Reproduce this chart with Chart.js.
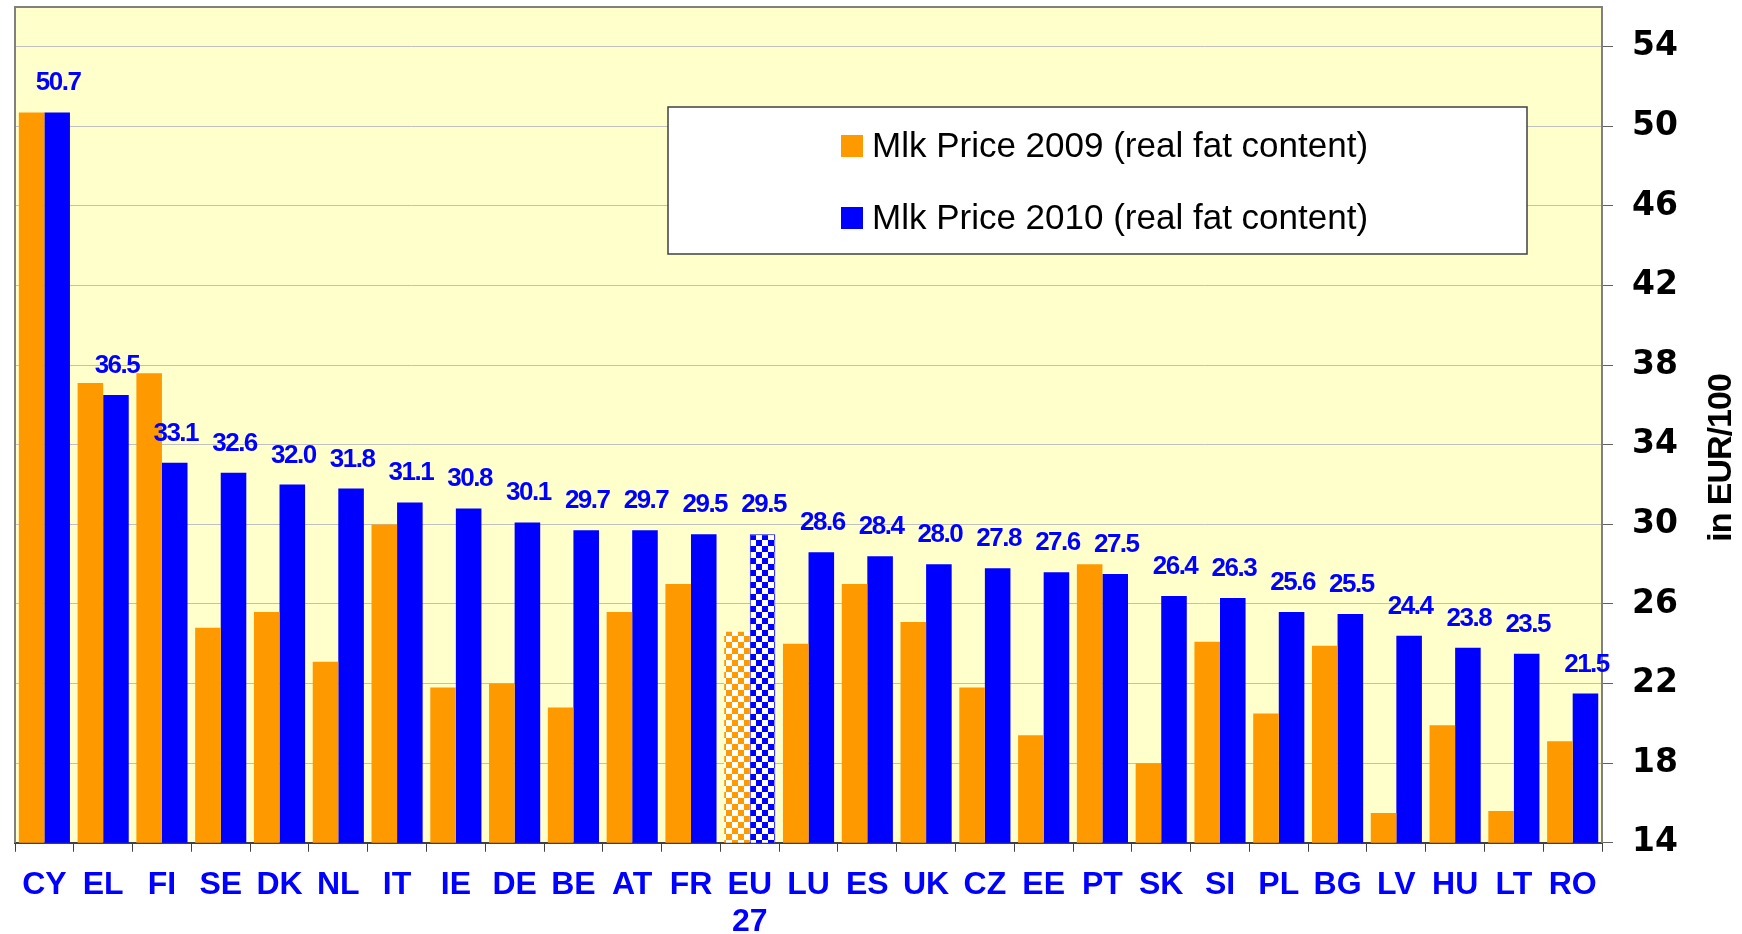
<!DOCTYPE html>
<html>
<head>
<meta charset="utf-8">
<title>Milk Price 2009 / 2010</title>
<script src="https://cdn.jsdelivr.net/npm/chart.js@4.4.1/dist/chart.umd.min.js"></script>
<style>
    html, body { margin: 0; padding: 0; background: #ffffff; }
    #wrap { width: 1742px; height: 934px; position: relative; }
</style>
</head>
<body>
<div id="wrap"><canvas id="milkChart"></canvas></div>
<script>
// ==========================================
// Milk prices by member state (EUR/100 kg)
// ==========================================

const countries = ['CY', 'EL', 'FI', 'SE', 'DK', 'NL', 'IT', 'IE', 'DE', 'BE', 'AT', 'FR', ['EU', '27'],
    'LU', 'ES', 'UK', 'CZ', 'EE', 'PT', 'SK', 'SI', 'PL', 'BG', 'LV', 'HU', 'LT', 'RO'];

const price2009 = [50.7, 37.1, 37.6, 24.8, 25.6, 23.1, 30.0, 21.8, 22.0, 20.8, 25.6, 27.0, 24.6,
    24.0, 27.0, 25.1, 21.8, 19.4, 28.0, 18.0, 24.1, 20.5, 23.9, 15.5, 19.9, 15.6, 19.1];

const price2010 = [50.7, 36.5, 33.1, 32.6, 32.0, 31.8, 31.1, 30.8, 30.1, 29.7, 29.7, 29.5, 29.5,
    28.6, 28.4, 28.0, 27.8, 27.6, 27.5, 26.4, 26.3, 25.6, 25.5, 24.4, 23.8, 23.5, 21.5];

const yTicks = [14, 18, 22, 26, 30, 34, 38, 42, 46, 50, 54];

const seriesNames = ['Mlk Price 2009 (real fat content)', 'Mlk Price 2010 (real fat content)'];
const axisTitle = 'in EUR/100';

const ORANGE = '#FF9900';
const BLUE = '#0000FF';
const EU_INDEX = 12;   // the EU average gets a checkered fill

const canvas = document.getElementById('milkChart');
const ctx = canvas.getContext('2d');

// checkerboard fill for the EU 27 bars
function checker(color, cell) {
    const tile = document.createElement('canvas');
    tile.width = tile.height = cell * 2;
    const t = tile.getContext('2d');
    t.fillStyle = '#ffffff';
    t.fillRect(0, 0, cell * 2, cell * 2);
    t.fillStyle = color;
    t.fillRect(0, 0, cell, cell);
    t.fillRect(cell, cell, cell, cell);
    return ctx.createPattern(tile, 'repeat');
}
const orangeChecker = checker(ORANGE, 6);
const blueChecker = checker(BLUE, 6);

// yellow plot background + grey frame
const plotFrame = {
    id: 'plotFrame',
    beforeDraw(chart) {
        const a = chart.chartArea;
        const c = chart.ctx;
        c.save();
        c.fillStyle = '#FFFFCC';
        c.fillRect(a.left, a.top, a.right - a.left, a.bottom - a.top);
        c.restore();
    },
    afterDatasetsDraw(chart) {
        const a = chart.chartArea;
        const c = chart.ctx;
        c.save();
        c.strokeStyle = '#808080';
        c.lineWidth = 2;
        c.beginPath();
        c.moveTo(a.left, a.bottom);
        c.lineTo(a.left, a.top);
        c.lineTo(a.right, a.top);
        c.stroke();
        c.restore();
    }
};

// value labels above the 2010 bars
const valueLabels = {
    id: 'valueLabels',
    afterDatasetsDraw(chart) {
        const c = chart.ctx;
        const meta = chart.getDatasetMeta(1);
        c.save();
        c.fillStyle = BLUE;
        c.font = "bold 26px 'Liberation Sans', Arial, sans-serif";
        c.letterSpacing = '-1.5px';
        c.textAlign = 'center';
        c.textBaseline = 'alphabetic';
        meta.data.forEach((bar, i) => {
            c.fillText(price2010[i].toFixed(1), bar.x + 1, bar.y - 22);
        });
        c.restore();
    }
};

// boxed legend inside the plot + rotated axis title
const boxLegend = {
    id: 'boxLegend',
    afterDraw(chart) {
        const c = chart.ctx;
        c.save();
        c.fillStyle = '#ffffff';
        c.fillRect(668, 107, 859, 147);
        c.strokeStyle = '#404040';
        c.lineWidth = 1.5;
        c.strokeRect(668, 107, 859, 147);

        const swatches = [ORANGE, BLUE];
        const rowY = [146, 218];
        c.font = "35px 'Liberation Sans', Arial, sans-serif";
        c.textBaseline = 'middle';
        c.textAlign = 'left';
        seriesNames.forEach((name, i) => {
            c.fillStyle = swatches[i];
            c.fillRect(841, rowY[i] - 11, 22, 22);
            c.fillStyle = '#000000';
            c.fillText(name, 872, rowY[i] + 1);
        });

        c.translate(1722, 458);
        c.rotate(-Math.PI / 2);
        c.textAlign = 'center';
        c.letterSpacing = '-1px';
        c.font = "bold 34px 'Liberation Sans', Arial, sans-serif";
        c.fillText(axisTitle, 0, 0);
        c.restore();
    }
};

new Chart(ctx, {
    type: 'bar',
    data: {
        labels: countries,
        datasets: [
            {
                label: seriesNames[0],
                data: price2009,
                backgroundColor: (c) => c.dataIndex === EU_INDEX ? orangeChecker : ORANGE,
                borderWidth: 0
            },
            {
                label: seriesNames[1],
                data: price2010,
                backgroundColor: (c) => c.dataIndex === EU_INDEX ? blueChecker : BLUE,
                borderColor: BLUE,
                borderWidth: (c) => c.dataIndex === EU_INDEX ? 1 : 0
            }
        ]
    },
    options: {
        responsive: true,
        maintainAspectRatio: false,
        animation: false,
        categoryPercentage: 0.87,
        barPercentage: 1.0,
        layout: { padding: { left: 15, top: 7, right: 45, bottom: -22 } },
        plugins: {
            legend: { display: false },
            tooltip: { enabled: false }
        },
        scales: {
            x: {
                grid: {
                    display: true,
                    drawOnChartArea: false,
                    drawTicks: true,
                    tickLength: 9,
                    tickColor: '#404040',
                    offset: true
                },
                border: { display: true, color: '#404040', width: 2 },
                ticks: {
                    color: BLUE,
                    padding: 15,
                    maxRotation: 0,
                    autoSkip: false,
                    font: { family: "'Liberation Sans', Arial, sans-serif", size: 32, weight: 'bold', lineHeight: 1.16 }
                },
                afterFit(scale) { scale.paddingLeft = 0; scale.paddingRight = 0; }
            },
            y: {
                position: 'right',
                min: 14,
                max: 56,
                afterBuildTicks(axis) { axis.ticks = yTicks.map(v => ({ value: v })); },
                afterFit(scale) { scale.paddingTop = 0; scale.paddingBottom = 0; },
                grid: {
                    color: '#C0C0C0',
                    lineWidth: 1,
                    tickLength: 11,
                    tickColor: '#606060'
                },
                border: { display: true, color: '#808080', width: 2 },
                ticks: {
                    color: '#000000',
                    padding: 19,
                    font: { family: "'DejaVu Sans', sans-serif", size: 33, weight: 'bold' }
                }
            }
        }
    },
    plugins: [plotFrame, valueLabels, boxLegend]
});
</script>
</body>
</html>
